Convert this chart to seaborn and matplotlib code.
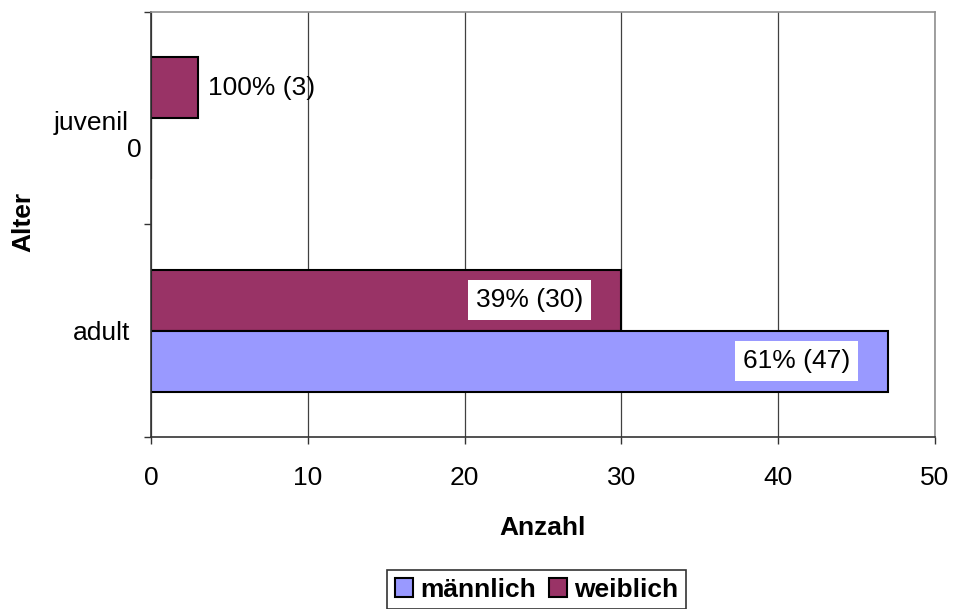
import pandas as pd
import matplotlib.pyplot as plt
import seaborn as sns
from matplotlib.patches import Patch
from matplotlib.transforms import ScaledTranslation

# data
alter = ['juvenil', 'juvenil', 'adult', 'adult']
geschlecht = ['männlich', 'weiblich', 'männlich', 'weiblich']
anzahl = [0, 3, 47, 30]
beschriftung = ['', '100% (3)', '61% (47)', '39% (30)']

kategorien = ['juvenil', 'adult']
kategorie_labels = ['juvenil \u2009\n0', 'adult']
hue_order = ['weiblich', 'männlich']
farben = {'männlich': '#9999FF', 'weiblich': '#993366'}
x_ticks = [0, 10, 20, 30, 40, 50]

df = pd.DataFrame({'Alter': alter, 'Geschlecht': geschlecht,
                   'Anzahl': anzahl, 'Label': beschriftung})

sns.set_theme(style='white')
plt.rcParams['font.family'] = ['Liberation Sans', 'DejaVu Sans']
plt.rcParams['text.color'] = 'black'
plt.rcParams['axes.labelcolor'] = 'black'
plt.rcParams['xtick.color'] = 'black'
plt.rcParams['ytick.color'] = 'black'

FS = 19

fig = plt.figure(figsize=(9.56, 6.09), dpi=100)
ax = fig.add_axes([0.158, 0.2824, 0.820, 0.698])

sns.barplot(data=df, y='Alter', x='Anzahl', hue='Geschlecht', order=kategorien,
            hue_order=hue_order, palette=farben, orient='h', width=0.572,
            edgecolor='black', linewidth=1.5, saturation=1, legend=False, ax=ax)

# labels on bars
for h_idx, h in enumerate(hue_order):
    cont = ax.containers[h_idx]
    for c_idx, c in enumerate(kategorien):
        row = df[(df['Alter'] == c) & (df['Geschlecht'] == h)]
        if row.empty or row['Label'].iloc[0] == '':
            continue
        p = cont.patches[c_idx]
        val = p.get_width()
        yc = p.get_y() + p.get_height() / 2
        txt = row['Label'].iloc[0]
        if val < 10:
            ax.annotate(txt, (val, yc), xytext=(7, 0), textcoords='offset points',
                        ha='left', va='center', fontsize=FS)
        else:
            ax.annotate(txt, (val, yc), xytext=(-66, 0), textcoords='offset points',
                        ha='center', va='center', fontsize=FS,
                        bbox=dict(boxstyle='square,pad=0.3', fc='white', ec='none'))

ax.set_xlim(0, 50)
ax.set_xticks(x_ticks)
ax.set_xticklabels([str(t) for t in x_ticks], fontsize=FS)
ax.tick_params(axis='x', length=5, width=1, color='#333333', pad=16, bottom=True)
ax.xaxis.grid(True, color='#404040', linewidth=0.9)
ax.yaxis.grid(False)

ax.set_ylim(1.5, -0.5)
ax.set_yticks([0, 1])
ax.set_yticklabels(kategorie_labels, fontsize=FS, multialignment='right', linespacing=1.15)
ax.set_yticks([-0.5, 0.5, 1.5], minor=True)
ax.tick_params(axis='y', which='major', length=0, pad=15)
ax.tick_params(axis='y', which='minor', length=5, width=1, color='#333333', left=True)
lbl = ax.get_yticklabels()[0]
lbl.set_transform(lbl.get_transform() + ScaledTranslation(0.11, -0.145, fig.dpi_scale_trans))

for s in ['left', 'bottom']:
    ax.spines[s].set_color('#333333')
    ax.spines[s].set_linewidth(1.2)
for s in ['top', 'right']:
    ax.spines[s].set_color('#909090')
    ax.spines[s].set_linewidth(1.2)

ax.set_xlabel('Anzahl', fontsize=FS, fontweight='bold')
ax.xaxis.set_label_coords(0.5, -0.185)
ax.set_ylabel('Alter', fontsize=FS, fontweight='bold')
ax.yaxis.set_label_coords(-0.148, 0.506)

handles = [Patch(facecolor=farben[g], edgecolor='black', linewidth=1.5) for g in ['männlich', 'weiblich']]
leg = fig.legend(handles, ['männlich', 'weiblich'], loc='center', bbox_to_anchor=(0.561, 0.032),
                 ncol=2, fancybox=False, frameon=True, handlelength=0.7, handleheight=0.7,
                 handletextpad=0.25, columnspacing=0.5, borderpad=0.3,
                 prop={'weight': 'bold', 'size': FS})
leg.get_frame().set_edgecolor('black')
leg.get_frame().set_linewidth(1.2)

fig.savefig('out.png', dpi=100)
